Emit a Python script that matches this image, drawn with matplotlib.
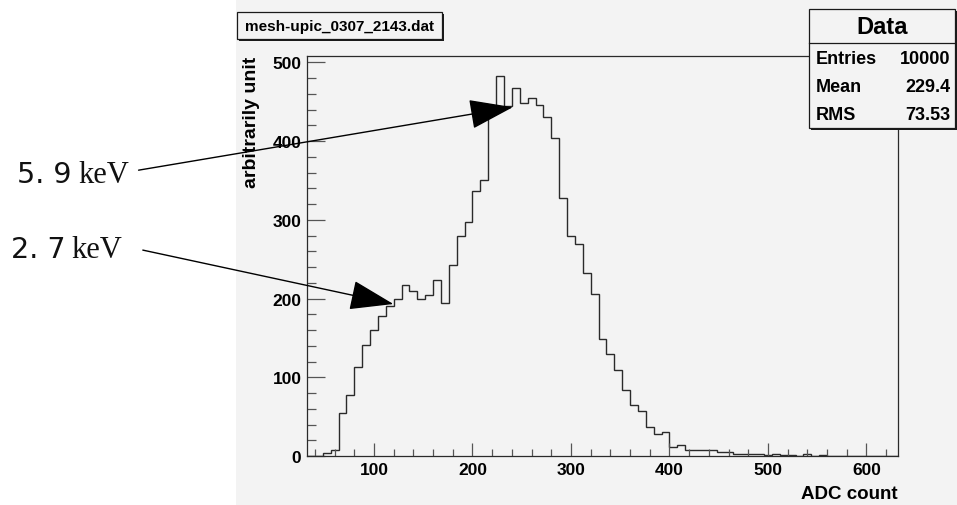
import matplotlib
matplotlib.use("Agg")
import matplotlib.pyplot as plt
from matplotlib.patches import Rectangle
from matplotlib.ticker import MultipleLocator
import numpy as np

# ---------------- data ----------------
bin_start = 32
bin_width = 8
counts = [0, 0, 4, 8, 55, 77, 113, 141, 160, 178,
          191, 200, 217, 210, 200, 205, 224, 194, 243, 280,
          297, 336, 350, 440, 483, 445, 467, 448, 455, 446,
          431, 404, 328, 280, 269, 232, 206, 148, 130, 109,
          84, 65, 57, 37, 28, 31, 12, 14, 8, 7,
          7, 7, 5, 5, 2, 2, 2, 3, 1, 2,
          1, 1, 0, 2, 0, 1, 0, 0, 0, 0,
          0, 0, 0, 0, 0]
title_text = "mesh-upic_0307_2143.dat"
stat_names = ["Entries", "Mean", "RMS"]
stat_values = ["10000", "229.4", "73.53"]
peak_labels = ["5. 9", "2. 7"]
peak_unit = "keV"
# arrow tips (data coords) and tails (data coords, outside the frame)
arrow_tips = [(241.0, 443.0), (119.7, 193.0)]
arrow_tails = [(-139.0, 363.0), (-134.7, 261.5)]

W, H = 957, 506
BG = "#f3f3f3"
FONT = "Liberation Sans"

def fx(px):
    return px / W

def fy(py):
    return 1 - py / H

fig = plt.figure(figsize=(W / 100, H / 100), dpi=100)
fig.patch.set_facecolor("white")

# gray canvas panel
fig.patches.append(Rectangle((fx(236), 0), 1 - fx(236), 1, transform=fig.transFigure,
                             facecolor=BG, edgecolor="none", zorder=-5))

ax = fig.add_axes([fx(307), fy(457), fx(898) - fx(307), fy(57) - fy(457)])
ax.set_zorder(1)
ax.set_facecolor(BG)

edges = bin_start + bin_width * np.arange(len(counts) + 1)
ax.stairs(counts, edges, color="#2a2a2a", lw=1.0, baseline=0)

ax.set_xlim(32, 632)
ax.set_ylim(0, 508)

ax.xaxis.set_major_locator(MultipleLocator(100))
ax.xaxis.set_minor_locator(MultipleLocator(20))
ax.yaxis.set_major_locator(MultipleLocator(100))
ax.yaxis.set_minor_locator(MultipleLocator(20))

for s in ax.spines.values():
    s.set_linewidth(0.9)
    s.set_color("#2a2a2a")

ax.tick_params(axis="both", which="both", direction="in", top=False, right=False,
               color="#555555", width=0.9)
ax.tick_params(axis="y", which="major", length=12.7, pad=4)
ax.tick_params(axis="y", which="minor", length=6.7)
ax.tick_params(axis="x", which="major", length=9.1, pad=4)
ax.tick_params(axis="x", which="minor", length=4.8)
for lab in ax.get_xticklabels() + ax.get_yticklabels():
    lab.set_fontfamily(FONT)
    lab.set_fontweight("bold")
    lab.set_fontsize(12.5)

# axis titles
ax.text((251 - 307) / (898 - 307), 1.0, "arbitrarily unit", rotation=90,
        ha="center", va="top", transform=ax.transAxes,
        fontfamily=FONT, fontweight="bold", fontsize=14)
fig.text(fx(898), fy(495), "ADC count", ha="right", va="center",
         fontfamily=FONT, fontweight="bold", fontsize=13.5)

# boxes with shadow
def box(x0, y0, x1, y1, shadow=2):
    fig.patches.append(Rectangle((fx(x0 + shadow), fy(y1 + shadow)), fx(x1 - x0), fy(y0) - fy(y1),
                                 transform=fig.transFigure, facecolor="#1a1a1a",
                                 edgecolor="none", zorder=3))
    fig.patches.append(Rectangle((fx(x0), fy(y1)), fx(x1 - x0), fy(y0) - fy(y1),
                                 transform=fig.transFigure, facecolor=BG,
                                 edgecolor="#1a1a1a", lw=0.9, zorder=4))

box(237, 13, 442, 40)
fig.text(fx(245), fy(27), title_text, ha="left", va="center", zorder=5,
         fontfamily=FONT, fontweight="bold", fontsize=11)

# stats box
box(809, 10, 955, 129)
fig.add_artist(plt.Line2D([fx(809), fx(955)], [fy(44), fy(44)], transform=fig.transFigure,
                          color="#1a1a1a", lw=0.9, zorder=5))
fig.text(fx(882), fy(28), "Data", ha="center", va="center", zorder=5,
         fontfamily=FONT, fontweight="bold", fontsize=17)
row_y = [59, 88, 116]
for name, val, yy in zip(stat_names, stat_values, row_y):
    fig.text(fx(816), fy(yy), name, ha="left", va="center", zorder=5,
             fontfamily=FONT, fontweight="bold", fontsize=13)
    fig.text(fx(950), fy(yy), val, ha="right", va="center", zorder=5,
             fontfamily=FONT, fontweight="bold", fontsize=13)

# peak annotations
label_pos = [(16.7, 182.7, 78), (11, 258.3, 71.7)]
for lab, (lx, ly, ux) in zip(peak_labels, label_pos):
    fig.text(fx(lx), fy(ly), lab, ha="left", va="baseline",
             fontfamily="DejaVu Sans", fontsize=20.5, color="#111111")
    fig.text(fx(ux), fy(ly), peak_unit, ha="left", va="baseline",
             fontfamily="Liberation Serif", fontsize=22, color="#111111")

for tip, tail in zip(arrow_tips, arrow_tails):
    ax.annotate("", xy=tip, xycoords="data", xytext=tail, textcoords="data",
                annotation_clip=False,
                arrowprops=dict(arrowstyle="-|>,head_length=2.8,head_width=0.95",
                                mutation_scale=10, color="black", lw=1.0,
                                shrinkA=0, shrinkB=0))

fig.savefig("out.png", dpi=100, facecolor=fig.get_facecolor())
